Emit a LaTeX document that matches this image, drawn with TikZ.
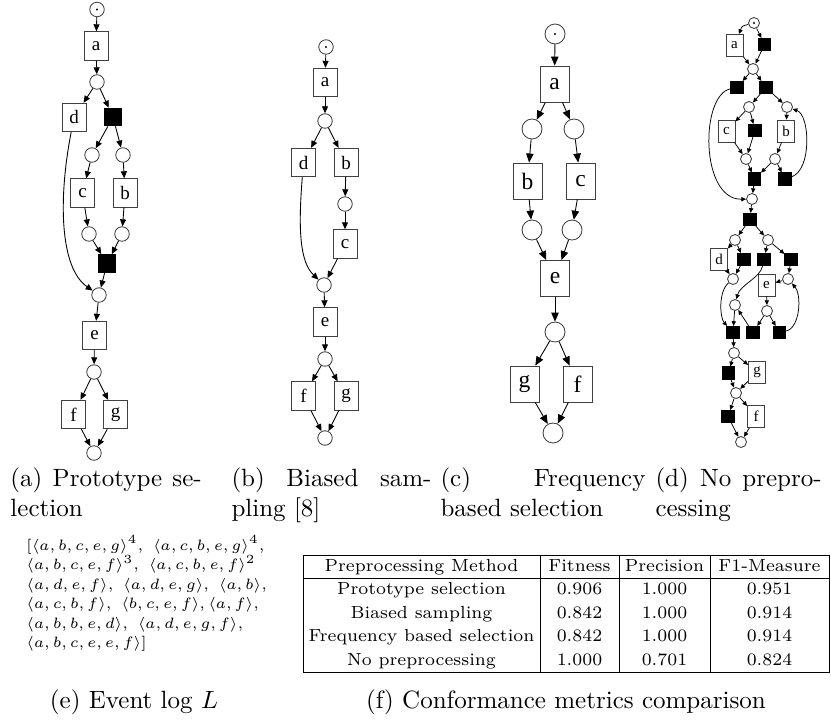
\documentclass[tikz,border=0pt]{standalone}
\usepackage{fontspec}
\newfontfamily\netfont{Liberation Serif}
\usetikzlibrary{arrows.meta}

\tikzset{
  pl/.style={circle, draw=black!75, line width=0.35pt, inner sep=0pt, minimum size=#1},
  tok/.style={path picture={\fill[black] (path picture bounding box.center) circle[radius=0.45pt];}},
  tr/.style 2 args={rectangle, draw=black!75, line width=0.35pt, inner sep=0pt,
                    minimum width=#1, minimum height=#2},
  tau/.style={rectangle, draw=black, fill=black, line width=0.35pt, inner sep=0pt,
              minimum width=#1, minimum height=#1},
  netarc/.style 2 args={line width=0.35pt, -{Triangle[length=#1,width=#2]}},
  % panel-specific looks
  trA/.style={tr={9.6pt}{11.4pt}, font=\netfont\fontsize{7.6}{8}\selectfont},
  plA/.style={pl=5.8pt},
  tauA/.style={tau=7.1pt},
  arcA/.style={netarc={2.8pt}{2.4pt}},
  trC/.style={tr={11.6pt}{14.4pt}, font=\netfont\fontsize{9.4}{10}\selectfont},
  plC/.style={pl=8pt},
  arcC/.style={netarc={3.6pt}{3pt}},
  trD/.style={tr={6.8pt}{8.8pt}, font=\netfont\fontsize{6}{7}\selectfont},
  plD/.style={pl=4.4pt},
  tauD/.style={tau=4.9pt},
  arcD/.style={line width=0.3pt, -{Triangle[length=1.9pt,width=1.7pt]}},
  subcap/.style={anchor=base west, inner sep=0pt, font=\fontsize{10}{12}\selectfont},
  midcap/.style={anchor=base, inner sep=0pt, font=\fontsize{10}{12}\selectfont},
  cell/.style={anchor=base, inner sep=0pt, font=\fontsize{7}{8}\selectfont},
  tablerule/.style={line width=0.4pt},
}

\begin{document}
\begin{tikzpicture}[x=0.4pt,y=-0.4pt]
\useasboundingbox (0,0) rectangle (831,719);

% ---------------- (a) prototype selection
\node[plA,tok] (aP0) at (97,9.5) {};
\node[trA] (aA) at (96,46) {a};
\node[plA] (aP1) at (97,82) {};
\node[trA] (aD) at (74,117.5) {d};
\node[tauA] (aT1) at (113,117) {};
\node[plA] (aP2) at (92,155) {};
\node[plA] (aP3) at (123,155) {};
\node[trA] (aC) at (82.5,193) {c};
\node[trA] (aB) at (125,193) {b};
\node[plA] (aP4) at (89,234) {};
\node[plA] (aP5) at (122,234) {};
\node[tauA] (aT2) at (107,263.5) {};
\node[plA] (aP6) at (99,295) {};
\node[trA] (aE) at (94.5,335.5) {e};
\node[plA] (aP7) at (94,372) {};
\node[trA] (aF) at (73.5,414.5) {f};
\node[trA] (aG) at (115.5,414.5) {g};
\node[plA] (aP8) at (94,453) {};
\foreach \s/\t in {aP0/aA, aA/aP1, aP1/aD, aP1/aT1, aT1/aP2, aT1/aP3, aP2/aC, aP3/aB,
                   aC/aP4, aB/aP5, aP4/aT2, aP5/aT2, aT2/aP6, aP6/aE, aE/aP7,
                   aP7/aF, aP7/aG, aF/aP8, aG/aP8}
  \draw[arcA] (\s) -- (\t);
\draw[arcA] (aD) .. controls (58,200) and (60,268) .. (aP6);

% ---------------- (b) biased sampling
\node[plA,tok] (bP0) at (326,47) {};
\node[trA] (bA) at (325,82.5) {a};
\node[plA] (bP1) at (325,121) {};
\node[trA] (bD) at (303.5,162.5) {d};
\node[trA] (bB) at (346,162.5) {b};
\node[plA] (bP2) at (345,204) {};
\node[trA] (bC) at (345,244) {c};
\node[plA] (bP3) at (324,285) {};
\node[trA] (bE) at (325,322) {e};
\node[plA] (bP4) at (325,359) {};
\node[trA] (bF) at (303.5,396) {f};
\node[trA] (bG) at (346,396) {g};
\node[plA] (bP5) at (325,438) {};
\foreach \s/\t in {bP0/bA, bA/bP1, bP1/bD, bP1/bB, bB/bP2, bP2/bC, bC/bP3,
                   bP3/bE, bE/bP4, bP4/bF, bP4/bG, bF/bP5, bG/bP5}
  \draw[arcA] (\s) -- (\t);
\draw[arcA] (bD) .. controls (298,230) and (300,262) .. (bP3);

% ---------------- (c) frequency based selection
\node[plC,tok] (cP0) at (555,34) {};
\node[trC] (cA) at (554.5,84) {a};
\node[plC] (cP1) at (532,129) {};
\node[plC] (cP2) at (574,129) {};
\node[trC] (cB) at (527.5,181) {b};
\node[trC] (cC) at (580.5,181) {c};
\node[plC] (cP3) at (532,230) {};
\node[plC] (cP4) at (572,230) {};
\node[trC] (cE) at (555,278.5) {e};
\node[plC] (cP5) at (555,332) {};
\node[trC] (cG) at (524.5,384) {g};
\node[trC] (cF) at (577.5,384) {f};
\node[plC] (cP6) at (553,433) {};
\foreach \s/\t in {cP0/cA, cA/cP1, cA/cP2, cP1/cB, cP2/cC, cB/cP3, cC/cP4,
                   cP3/cE, cP4/cE, cE/cP5, cP5/cG, cP5/cF, cG/cP6, cF/cP6}
  \draw[arcC] (\s) -- (\t);

% ---------------- (d) no preprocessing
\node[plD,tok] (dP0) at (754,23) {};
\node[trD] (dA) at (734.5,45.5) {a};
\node[tauD] (dT1) at (764.5,44.5) {};
\node[plD] (dP1) at (753,69) {};
\node[tauD] (dT2) at (737,87.5) {};
\node[tauD] (dT3) at (766,87.5) {};
\node[plD] (dP2) at (749,107) {};
\node[plD] (dP3) at (787,107) {};
\node[trD] (dC) at (726.5,131) {c};
\node[tauD] (dT4) at (755,130.5) {};
\node[trD] (dB) at (786,131) {b};
\node[plD] (dP4) at (746,159) {};
\node[plD] (dP5) at (775,159) {};
\node[tauD] (dT5) at (754.5,179) {};
\node[tauD] (dT6) at (785,179) {};
\node[plD] (dP6) at (752,199) {};
\node[tauD] (dT7) at (750,219.5) {};
\node[plD] (dP7) at (735,240) {};
\node[plD] (dP8) at (768,240) {};
\node[trD] (dD) at (719,259) {d};
\node[tauD] (dT8) at (744,259.5) {};
\node[tauD] (dT9) at (764,259.5) {};
\node[tauD] (dT10) at (791,259.5) {};
\node[plD] (dP9) at (733,279) {};
\node[trD] (dE) at (766.5,285) {e};
\node[plD] (dP10) at (788,279) {};
\node[plD] (dP11) at (735,305) {};
\node[plD] (dP12) at (767,311) {};
\node[tauD] (dT11) at (733,332.5) {};
\node[tauD] (dT12) at (753,332.5) {};
\node[tauD] (dT13) at (779.5,332.5) {};
\node[plD] (dP13) at (734,353) {};
\node[tauD] (dT14) at (728.5,373) {};
\node[trD] (dG) at (757,372.5) {g};
\node[plD] (dP14) at (736,393) {};
\node[tauD] (dT15) at (728,416.5) {};
\node[trD] (dF) at (756,416.5) {f};
\node[plD] (dP15) at (741,442) {};
\foreach \s/\t in {dP0/dT1, dA/dP1, dT1/dP1, dP1/dT2, dP1/dT3, dT3/dP2, dT3/dP3,
                   dP2/dC, dP2/dT4, dP3/dB, dC/dP4, dT4/dP4, dB/dP5,
                   dP4/dT5, dP5/dT5, dP5/dT6, dT5/dP6, dP6/dT7, dT7/dP7, dT7/dP8,
                   dP7/dD, dP7/dT8, dP8/dT9, dP8/dT10, dD/dP9, dT8/dP9, dT10/dP10,
                   dP10/dE, dE/dP12, dP11/dT11, dT12/dP11, dP12/dT12, dP12/dT13,
                   dT11/dP13, dP13/dT14, dP13/dG, dT14/dP14, dG/dP14,
                   dP14/dT15, dP14/dF, dT15/dP15, dF/dP15}
  \draw[arcD] (\s) -- (\t);
\draw[arcD] (dP0) .. controls (742,26) .. (dA);
\draw[arcD] (dT6) .. controls (812,170) and (810,115) .. (dP3);
\draw[arcD] (dT2) .. controls (700,95) and (700,200) .. (dP6);
\draw[arcD] (dT9) .. controls (760,278) and (740,285) .. (dP11);
\draw[arcD] (dP9) .. controls (718,292) and (720,318) .. (dT11);
\draw[arcD] (dT13) .. controls (800,328) and (802,295) .. (dP10);

% ---------------- sub-captions, first row
\node[subcap] (capa1) at (10,486)  {\makebox[76.5pt][s]{(a) Prototype se-}};
\node[subcap] (capa2) at (10,516)  {lection};
\node[subcap] (capb1) at (231,486) {\makebox[80pt][s]{(b) Biased sam-}};
\node[subcap] (capb2) at (231,516) {pling [8]};
\node[subcap] (capc1) at (440,486) {\makebox[82pt][s]{(c) Frequency}};
\node[subcap] (capc2) at (440,516) {based selection};
\node[subcap] (capd1) at (655,486) {\makebox[66.5pt][s]{(d) No prepro-}};
\node[subcap] (capd2) at (655,516) {cessing};

% ---------------- (e) event log
\node[anchor=base west, inner sep=0pt, align=left, font=\fontsize{6.3}{7.8}\selectfont] (log) at (26,647.5)
  {$[\langle a,b,c,e,g\rangle^4,\ \langle a,c,b,e,g\rangle^4,$\\
   $\langle a,b,c,e,f\rangle^3,\ \langle a,c,b,e,f\rangle^2$\\
   $\langle a,d,e,f\rangle,\ \langle a,d,e,g\rangle,\ \langle a,b\rangle,$\\
   $\langle a,c,b,f\rangle,\ \langle b,c,e,f\rangle,\langle a,f\rangle,$\\
   $\langle a,b,b,e,d\rangle,\ \langle a,d,e,g,f\rangle,$\\
   $\langle a,b,c,e,e,f\rangle]$};
\node[midcap] (cape) at (134,708) {(e) Event log $L$};

% ---------------- (f) conformance table
\draw[tablerule] (303,555) rectangle (829,672);
\draw[tablerule] (303,578) -- (829,578);
\foreach \xs in {540,619,710} \draw[tablerule] (\xs,555) -- (\xs,672);
\node[cell] (h1) at (421.5,571.5) {Preprocessing Method};
\node[cell] (h2) at (579.5,571.5) {Fitness};
\node[cell] (h3) at (664.5,571.5) {Precision};
\node[cell] (h4) at (769.5,571.5) {F1-Measure};
\node[cell] (r1a) at (421.5,594.5) {Prototype selection};
\node[cell] (r1b) at (579.5,594.5) {0.906};
\node[cell] (r1c) at (664.5,594.5) {1.000};
\node[cell] (r1d) at (769.5,594.5) {0.951};
\node[cell] (r2a) at (421.5,618) {Biased sampling};
\node[cell] (r2b) at (579.5,618) {0.842};
\node[cell] (r2c) at (664.5,618) {1.000};
\node[cell] (r2d) at (769.5,618) {0.914};
\node[cell] (r3a) at (421.5,641.5) {Frequency based selection};
\node[cell] (r3b) at (579.5,641.5) {0.842};
\node[cell] (r3c) at (664.5,641.5) {1.000};
\node[cell] (r3d) at (769.5,641.5) {0.914};
\node[cell] (r4a) at (421.5,665) {No preprocessing};
\node[cell] (r4b) at (579.5,665) {1.000};
\node[cell] (r4c) at (664.5,665) {0.701};
\node[cell] (r4d) at (769.5,665) {0.824};
\node[midcap] (capf) at (566,708) {(f) Conformance metrics comparison};
\end{tikzpicture}
\end{document}
